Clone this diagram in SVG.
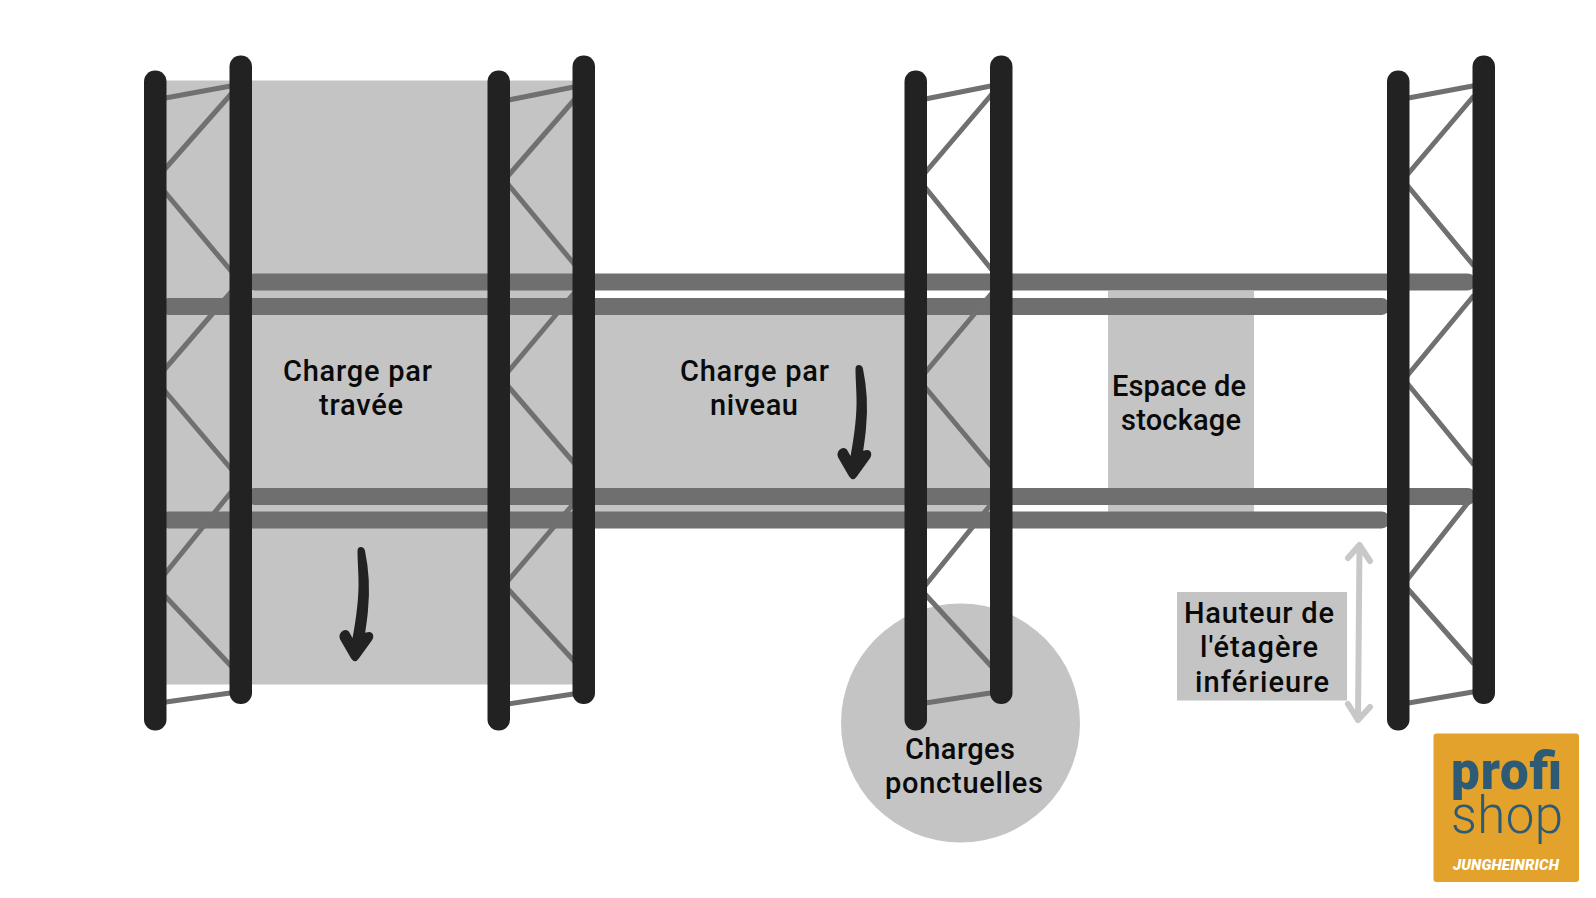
<svg xmlns="http://www.w3.org/2000/svg" width="1596" height="898" viewBox="0 0 1596 898">
<style>
.zone{fill:#c4c4c4}
.beam{fill:#6f6f6f}
.post{fill:#222222}
.brace{stroke:#707070;stroke-width:5;fill:none}
.ink{fill:#222222;stroke:#222222;stroke-width:2;stroke-linejoin:round}
.dim{stroke:#c8c8c8;stroke-width:6;fill:none;stroke-linecap:round;stroke-linejoin:round}
text{font-family:Roboto,"Noto Sans","Liberation Sans",sans-serif}
.label{font-size:29px;font-weight:500;fill:#0a0a0a}
</style>
<defs>
<path id="arrowShape" d="M358.5 551 C358.5 547 363 547 364 551 C368 570 369 590 367 610 C366.500 618 365 626 364 634 L369 633 C373 633 373 638 371 640 L358 658 C356 661 354 661 352 658 L341 639 C339 634 344 629 348 632 L353 641 C357 620 360 600 359.500 580 C359.300 570 358.500 560 358.500 551 Z"/>
</defs>
<g id="zones">
<rect class="zone" x="160" y="80.500" width="420" height="604"/>
<rect class="zone" x="580" y="312" width="410" height="200"/>
<rect class="zone" x="1108" y="291" width="146" height="221"/>
<rect class="zone" x="1177" y="592" width="170" height="108.500"/>
<circle class="zone" cx="960.500" cy="723" r="119.500"/>
</g>
<g id="beams">
<rect class="beam" x="246" y="273.500" width="1230" height="17" rx="8.500"/>
<rect class="beam" x="160" y="298" width="1230" height="17" rx="8.500"/>
<rect class="beam" x="246" y="488" width="1230" height="17" rx="8.500"/>
<rect class="beam" x="160" y="511.500" width="1230" height="17" rx="8.500"/>
</g>
<g id="connectors">
<path class="brace" d="M164 98.300L232 85.700M164 170L232 93M164 191L232 272M232 291L164 370M164 390L232 470M232 491L164 575M164 595L232 667M164 702.200L232 692.800"/>
<path class="brace" d="M507 100.300L575 86.700M507 177L575 99M507 183L575 265M575 292L507 373M507 385L575 464M575 502L507 582M507 588L575 662M507 704.200L575 693.800"/>
<path class="brace" d="M924 99.300L992 85.700M924 174L992 94M924 186L992 270M992 293L924 374M924 386L992 467M992 503L924 587M924 593L992 667M924 703.200L992 692.800"/>
<path class="brace" d="M1407 98.300L1474 85.700M1407 175L1474 96M1407 185L1474 266M1474 295L1407 376M1407 383L1474 465M1474 495L1407 580M1407 588L1474 664M1407 703.300L1474 691.700"/>
<path class="dim" d="M1359.500 545L1358 720M1348 558L1359.500 545L1370 561M1348 704L1358 720L1370 707"/>
</g>
<g id="frame-1"><rect class="post" x="144" y="70.500" width="22.500" height="660" rx="11"/><rect class="post" x="229.500" y="55.500" width="22.500" height="648.500" rx="11"/></g>
<g id="frame-2"><rect class="post" x="487.500" y="70.500" width="22.500" height="660" rx="11"/><rect class="post" x="572.500" y="55.500" width="22.500" height="648.500" rx="11"/></g>
<g id="frame-3"><rect class="post" x="904.500" y="70.500" width="22.500" height="660" rx="11"/><rect class="post" x="990" y="55.500" width="22.500" height="648.500" rx="11"/></g>
<g id="frame-4"><rect class="post" x="1387" y="70.500" width="22.500" height="660" rx="11"/><rect class="post" x="1472.500" y="55.500" width="22.500" height="648.500" rx="11"/></g>
<g id="arrow-bay"><use href="#arrowShape" class="ink"/></g>
<g id="arrow-level"><use href="#arrowShape" class="ink" x="498" y="-182"/></g>
<g id="label-bay"><text class="label" x="283" y="381" textLength="149">Charge par</text><text class="label" x="319" y="415" textLength="84">travée</text></g>
<g id="label-level"><text class="label" x="680" y="381" textLength="149">Charge par</text><text class="label" x="710" y="415" textLength="88">niveau</text></g>
<g id="label-storage"><text class="label" x="1112" y="396" textLength="134">Espace de</text><text class="label" x="1121" y="430" textLength="120">stockage</text></g>
<g id="label-height"><text class="label" x="1184" y="622.500" textLength="150">Hauteur de</text><text class="label" x="1200" y="657" textLength="118">l'étagère</text><text class="label" x="1195" y="691.500" textLength="134">inférieure</text></g>
<g id="label-point"><text class="label" x="905" y="759" textLength="110">Charges</text><text class="label" x="885" y="793" textLength="158">ponctuelles</text></g>
<g id="logo">
<rect x="1433.500" y="733.500" width="145.500" height="148.500" rx="3" fill="#e2a22c"/>
<text x="1451" y="789" font-size="51" font-weight="900" fill="#2d5a75" textLength="111">profi</text>
<text x="1451" y="833" font-size="51" font-weight="300" fill="#2d5a75" textLength="112">shop</text>
<text x="1453" y="870" font-size="15" font-weight="900" font-style="italic" fill="#ffffff" textLength="106">JUNGHEINRICH</text>
</g>
</svg>
